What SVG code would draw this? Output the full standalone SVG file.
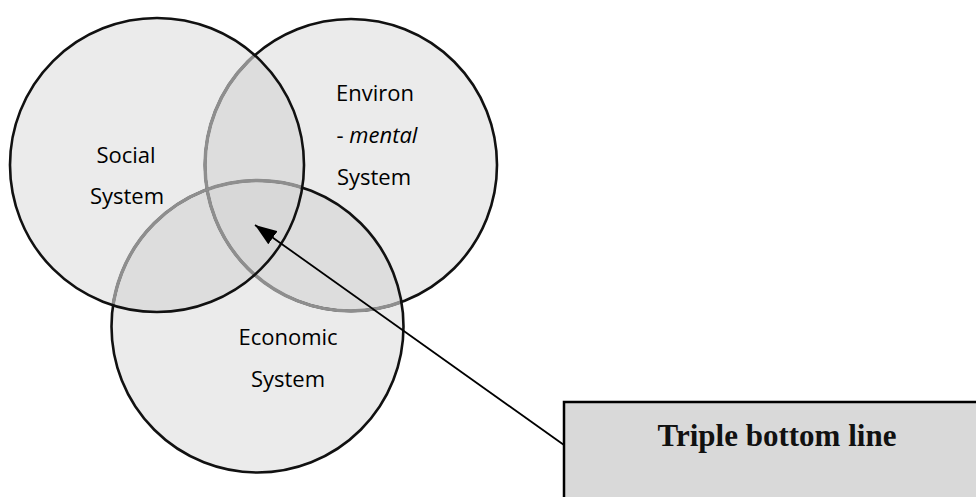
<svg xmlns="http://www.w3.org/2000/svg" width="976" height="497" viewBox="0 0 976 497">
<style>
.fill{fill:#ebebeb;stroke:none}
.ov2{fill:#dddddd;stroke:none}
.ov3{fill:#d8d8d8;stroke:none}
.out{fill:none;stroke:#111;stroke-width:2.6}
.gray{fill:none;stroke:#8e8e8e;stroke-width:3.4}
.lbl{font-family:"Open Sans","Noto Sans",sans-serif;font-size:22px;fill:#000;text-anchor:middle}
.it{font-style:italic}
.box{fill:#d9d9d9;stroke:#000;stroke-width:2.5}
.boxt{font-family:"Liberation Serif","Times New Roman",serif;font-weight:bold;font-size:31px;fill:#111;text-anchor:middle}
.conn{stroke:#000;stroke-width:1.8;fill:none}
</style>
<defs>
<clipPath id="cSoc"><circle cx="157" cy="165" r="146"/></clipPath>
<clipPath id="cEnv"><circle cx="351" cy="165" r="146"/></clipPath>
<clipPath id="cEco"><circle cx="257.5" cy="326.5" r="146"/></clipPath>
<clipPath id="cSocEco"><circle cx="157" cy="165" r="146"/><circle cx="257.5" cy="326.5" r="145"/></clipPath>
<marker id="ah" viewBox="0 0 22 16" refX="22" refY="8" markerWidth="22" markerHeight="16" markerUnits="userSpaceOnUse" orient="auto">
<path d="M0,0 L22,8 L0,16 Z" fill="#000"/>
</marker>
</defs>
<rect width="976" height="497" fill="#fff"/>
<g id="fills">
<circle class="fill" cx="351" cy="165" r="146"/>
<circle class="fill" cx="257.5" cy="326.5" r="146"/>
<circle class="fill" cx="157" cy="165" r="147"/>
<circle class="ov2" cx="351" cy="165" r="146" clip-path="url(#cSoc)"/>
<circle class="ov2" cx="257.5" cy="326.5" r="146" clip-path="url(#cSoc)"/>
<circle class="ov2" cx="257.5" cy="326.5" r="146" clip-path="url(#cEnv)"/>
<g clip-path="url(#cSoc)"><circle class="ov3" cx="257.5" cy="326.5" r="146" clip-path="url(#cEnv)"/></g>
</g>
<g id="env">
<circle class="out" cx="351" cy="165" r="146"/>
<circle class="gray" cx="351" cy="165" r="146" clip-path="url(#cSocEco)"/>
<text class="lbl" x="375" y="101">Environ</text>
<text class="lbl" x="377" y="143">- <tspan class="it">mental</tspan></text>
<text class="lbl" x="374" y="185">System</text>
</g>
<g id="eco">
<circle class="out" cx="257.5" cy="326.5" r="146"/>
<circle class="gray" cx="257.5" cy="326.5" r="146" clip-path="url(#cSoc)"/>
<text class="lbl" x="288" y="345">Economic</text>
<text class="lbl" x="288" y="387">System</text>
</g>
<g id="soc">
<circle class="out" cx="157" cy="165" r="147"/>
<text class="lbl" x="126" y="163">Social</text>
<text class="lbl" x="127" y="204">System</text>
</g>
<g id="tbl">
<rect class="box" x="564" y="402" width="420" height="110"/>
<text class="boxt" x="777" y="446">Triple bottom line</text>
</g>
<g id="connectors">
<line class="conn" x1="564" y1="445" x2="255" y2="225" marker-end="url(#ah)"/>
</g>
</svg>
